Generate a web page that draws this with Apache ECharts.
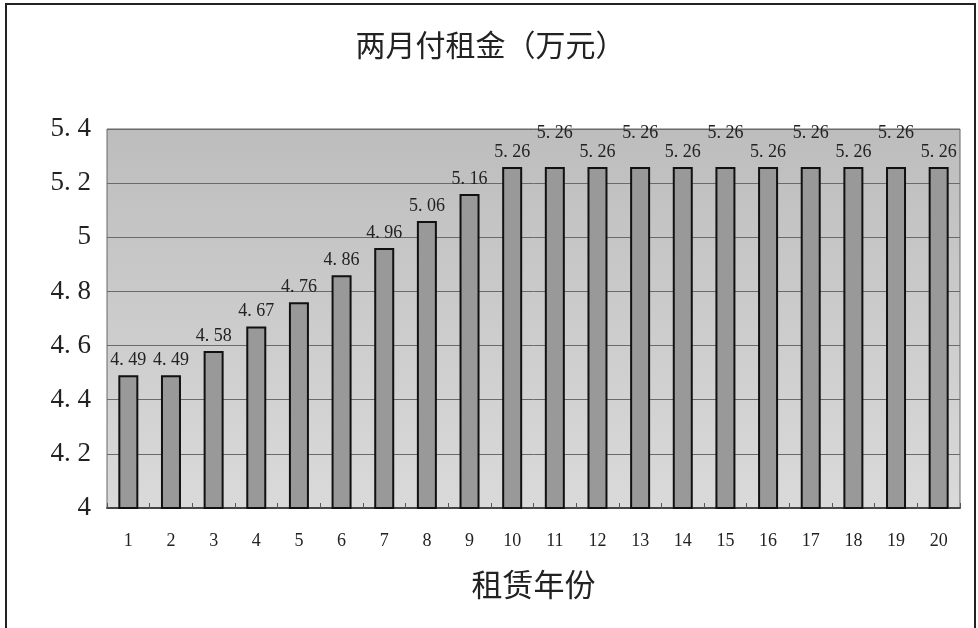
<!DOCTYPE html>
<html>
<head>
<meta charset="utf-8">
<script src="https://cdn.jsdelivr.net/npm/echarts@6/dist/echarts.min.js"></script>
<style>
  html, body { margin: 0; padding: 0; background: #fff; overflow: hidden; }
  #chart { width: 971px; height: 625px; margin: 3px 0 0 5px; border: 2px solid #222; border-bottom: none; box-sizing: border-box; }
</style>
</head>
<body>
<div id="chart"></div>
<script>
// data
const years = ['1', '2', '3', '4', '5', '6', '7', '8', '9', '10',
    '11', '12', '13', '14', '15', '16', '17', '18', '19', '20']
const rent = [4.49, 4.49, 4.58, 4.67, 4.76, 4.86, 4.96, 5.06, 5.16, 5.26,
    5.26, 5.26, 5.26, 5.26, 5.26, 5.26, 5.26, 5.26, 5.26, 5.26]

const chart = echarts.init(document.getElementById('chart'))

const serif = '"Liberation Serif", "DejaVu Serif", "Noto Sans CJK SC", serif'
const cjk = '"Noto Sans CJK SC", sans-serif'

// gap the dot like the scanned original: 4.49 -> "4. 49"
const spaced = v => String(v).replace('.', '. ')

// labels of 11, 13, 15, 17, 19 sit higher to avoid overlap
const barData = rent.map((v, i) => {
    const item = { value: v }
    if (i >= 10 && i % 2 === 0) item.label = { offset: [0, -19] }
    return item
})

const option = {
    animation: false,
    title: {
        text: '两月付租金（万元）',
        left: 'center',
        top: 20,
        textStyle: { fontFamily: cjk, fontSize: 30, fontWeight: 'normal', color: '#222' }
    },
    grid: {
        left: 100,
        right: 14,
        top: 124,
        bottom: 120,
        show: true,
        borderColor: '#666',
        borderWidth: 1,
        backgroundColor: new echarts.graphic.LinearGradient(0, 0, 0, 1, [
            { offset: 0, color: '#bdbdbd' },
            { offset: 1, color: '#dadada' }
        ])
    },
    xAxis: {
        type: 'category',
        data: years,
        name: '租赁年份',
        nameLocation: 'middle',
        nameGap: 61,
        nameTextStyle: { fontFamily: cjk, fontSize: 31, color: '#222' },
        axisLine: { lineStyle: { color: '#444', width: 2 } },
        axisTick: { show: true, inside: true, length: 5, lineStyle: { color: '#555' } },
        axisLabel: { fontFamily: serif, fontSize: 18, color: '#222', margin: 24 }
    },
    yAxis: {
        type: 'value',
        min: 4,
        max: 5.4,
        interval: 0.2,
        axisLine: { show: false },
        axisTick: { show: false },
        axisLabel: {
            fontFamily: serif,
            fontSize: 27,
            color: '#222',
            margin: 16,
            formatter: v => spaced(Math.round(v * 10) / 10)
        },
        splitLine: { lineStyle: { color: '#6a6a6a', width: 1 } }
    },
    series: [
        {
            type: 'bar',
            data: barData,
            barWidth: 20,
            itemStyle: { color: '#999999', borderColor: '#111', borderWidth: 2 },
            label: {
                show: true,
                position: 'top',
                distance: 6,
                fontFamily: serif,
                fontSize: 18,
                color: '#222',
                formatter: p => spaced(p.value)
            }
        }
    ]
}

chart.setOption(option)
</script>
</body>
</html>
